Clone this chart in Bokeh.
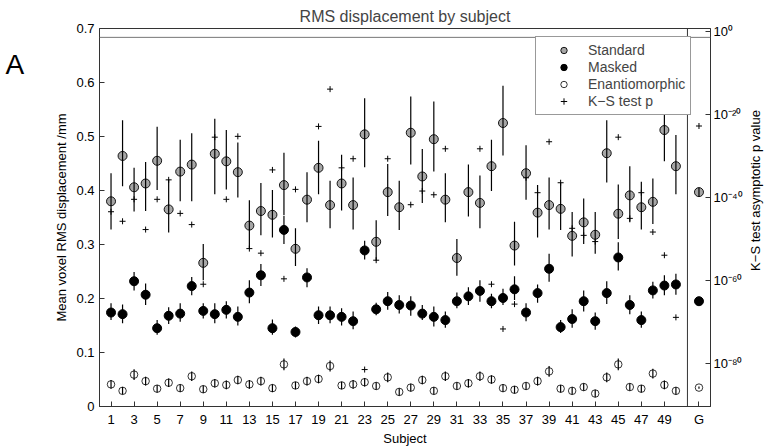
import math
from bokeh.plotting import figure
from bokeh.layouts import row
from bokeh.models import (Range1d, LogScale, LogAxis, FixedTicker, Span,
                          Legend, LegendItem, ColumnDataSource)
from bokeh.core.properties import value
from bokeh.embed import file_html
from bokeh.resources import INLINE

FONT = "Liberation Sans"

# ---------------- data ----------------
subjects = list(range(1, 51))

std_mean = [0.380, 0.464, 0.406, 0.413, 0.455, 0.365, 0.435, 0.448, 0.266, 0.468,
            0.454, 0.434, 0.335, 0.362, 0.355, 0.410, 0.292, 0.383, 0.442, 0.373,
            0.413, 0.373, 0.504, 0.305, 0.397, 0.369, 0.507, 0.426, 0.495, 0.383,
            0.275, 0.397, 0.377, 0.445, 0.525, 0.298, 0.432, 0.359, 0.373, 0.366,
            0.316, 0.341, 0.318, 0.469, 0.357, 0.391, 0.369, 0.379, 0.512, 0.445]
std_lo = [0.328, 0.408, 0.361, 0.362, 0.401, 0.322, 0.380, 0.380, 0.234, 0.393,
          0.402, 0.387, 0.292, 0.317, 0.313, 0.354, 0.260, 0.341, 0.393, 0.330,
          0.363, 0.328, 0.443, 0.270, 0.353, 0.327, 0.448, 0.377, 0.435, 0.341,
          0.242, 0.352, 0.330, 0.399, 0.465, 0.261, 0.383, 0.313, 0.328, 0.327,
          0.278, 0.301, 0.283, 0.415, 0.310, 0.341, 0.328, 0.338, 0.454, 0.393]
std_hi = [0.432, 0.530, 0.442, 0.453, 0.518, 0.420, 0.494, 0.506, 0.301, 0.533,
          0.512, 0.489, 0.382, 0.414, 0.401, 0.470, 0.330, 0.434, 0.492, 0.418,
          0.466, 0.424, 0.571, 0.345, 0.449, 0.418, 0.574, 0.477, 0.565, 0.432,
          0.310, 0.448, 0.428, 0.494, 0.594, 0.342, 0.484, 0.410, 0.424, 0.414,
          0.360, 0.385, 0.360, 0.530, 0.411, 0.445, 0.416, 0.422, 0.573, 0.503]

msk_mean = [0.174, 0.171, 0.232, 0.207, 0.145, 0.168, 0.172, 0.223, 0.177, 0.171,
            0.179, 0.166, 0.211, 0.243, 0.145, 0.327, 0.138, 0.239, 0.169, 0.169,
            0.166, 0.158, 0.289, 0.180, 0.195, 0.188, 0.187, 0.172, 0.166, 0.160,
            0.195, 0.204, 0.214, 0.195, 0.201, 0.217, 0.174, 0.210, 0.255, 0.147,
            0.162, 0.195, 0.158, 0.210, 0.276, 0.188, 0.160, 0.215, 0.224, 0.226]
msk_lo = [0.160, 0.154, 0.215, 0.188, 0.133, 0.153, 0.157, 0.206, 0.163, 0.154,
          0.163, 0.150, 0.191, 0.223, 0.133, 0.301, 0.128, 0.221, 0.153, 0.154,
          0.150, 0.143, 0.272, 0.169, 0.179, 0.172, 0.168, 0.160, 0.148, 0.146,
          0.182, 0.188, 0.194, 0.182, 0.188, 0.197, 0.158, 0.192, 0.231, 0.136,
          0.146, 0.176, 0.142, 0.190, 0.252, 0.171, 0.146, 0.200, 0.206, 0.207]
msk_hi = [0.191, 0.189, 0.249, 0.228, 0.160, 0.184, 0.191, 0.240, 0.191, 0.191,
          0.195, 0.185, 0.234, 0.264, 0.161, 0.353, 0.148, 0.256, 0.185, 0.185,
          0.182, 0.176, 0.307, 0.192, 0.212, 0.206, 0.204, 0.188, 0.185, 0.176,
          0.211, 0.221, 0.234, 0.209, 0.218, 0.241, 0.191, 0.226, 0.283, 0.160,
          0.180, 0.215, 0.174, 0.232, 0.304, 0.206, 0.176, 0.231, 0.243, 0.246]

ena_mean = [0.041, 0.029, 0.059, 0.047, 0.033, 0.044, 0.034, 0.056, 0.032, 0.043,
            0.040, 0.049, 0.041, 0.047, 0.034, 0.078, 0.039, 0.047, 0.051, 0.075,
            0.039, 0.041, 0.045, 0.038, 0.054, 0.027, 0.035, 0.049, 0.029, 0.056,
            0.038, 0.043, 0.056, 0.050, 0.034, 0.031, 0.038, 0.047, 0.065, 0.033,
            0.029, 0.036, 0.024, 0.054, 0.078, 0.036, 0.033, 0.061, 0.040, 0.029]
ena_err = [0.008, 0.007, 0.010, 0.008, 0.007, 0.008, 0.007, 0.009, 0.007, 0.008,
           0.008, 0.008, 0.008, 0.008, 0.007, 0.011, 0.007, 0.008, 0.008, 0.010,
           0.007, 0.008, 0.008, 0.007, 0.009, 0.007, 0.007, 0.008, 0.007, 0.009,
           0.007, 0.008, 0.009, 0.008, 0.007, 0.007, 0.007, 0.008, 0.010, 0.007,
           0.007, 0.007, 0.007, 0.009, 0.011, 0.007, 0.007, 0.009, 0.008, 0.007]

# K-S test asymptotic p value, as exponent of ten
ks_exp = [-43.4, -45.7, -40.4, -47.7, -40.4, -35.7, -43.8, -46.5, -60.9, -25.4,
          -40.4, -25.2, -52.3, -53.4, -33.3, -59.6, -38.0, -40.4, -22.8, -13.8,
          -32.8, -30.6, -81.5, -55.1, -30.6, -42.2, -41.7, -38.4, -39.3, -28.2,
          -54.5, -38.6, -28.2, -60.9, -71.7, -65.7, -35.2, -38.8, -26.5, -36.4,
          -47.4, -49.1, -50.6, -15.0, -25.4, -45.0, -38.8, -48.3, -53.9, -68.9]

# group (G) summary
group_label = "G"
g_std, g_std_lo, g_std_hi = 0.397, 0.389, 0.405
g_msk, g_msk_lo, g_msk_hi = 0.195, 0.192, 0.198
g_ena, g_ena_lo, g_ena_hi = 0.035, 0.033, 0.037
g_ks_exp = -22.7

x_ticks = [1, 3, 5, 7, 9, 11, 13, 15, 17, 19, 21, 23, 25, 27, 29, 31, 33, 35,
           37, 39, 41, 43, 45, 47, 49]
y_ticks = [0.0, 0.1, 0.2, 0.3, 0.4, 0.5, 0.6, 0.7]
p_ticks = [1.0, 1e-20, 1e-40, 1e-60, 1e-80]
p_tick_labels = ["10\u2070", "10\u207b\u00b2\u2070", "10\u207b\u2074\u2070",
                 "10\u207b\u2076\u2070", "10\u207b\u2078\u2070"]
p_threshold = 0.05
panel_letter = "A"
right_axis_title = "K\u2212S test asymptotic p value"

# ---------------- layout sizes ----------------
W, H = 767, 448
A_W = 40          # strip holding the panel letter
R_W = 22          # strip holding the right axis title

def strip(width):
    f = figure(width=width, height=H, output_backend="svg", toolbar_location=None,
               x_range=Range1d(0, width), y_range=Range1d(0, H),
               x_axis_location=None, y_axis_location=None, min_border=0)
    f.outline_line_color = None
    f.xgrid.visible = False
    f.ygrid.visible = False
    return f

fa = strip(A_W)
fa.text(x=[5], y=[H - 43], text=[panel_letter], text_font=value(FONT),
        text_font_size="28px", text_baseline="alphabetic", text_align="left",
        text_color="black")

fr = strip(R_W)
fr.text(x=[10], y=[H - 192], text=[right_axis_title], text_font=value(FONT),
        text_font_size="13px", text_baseline="middle", text_align="center",
        angle=math.pi / 2, text_color="black")

# ---------------- sources ----------------
g_x = 52
xs = subjects + [g_x]
src = ColumnDataSource(dict(
    x=xs,
    std=std_mean + [g_std], std_lo=std_lo + [g_std_lo], std_hi=std_hi + [g_std_hi],
    msk=msk_mean + [g_msk], msk_lo=msk_lo + [g_msk_lo], msk_hi=msk_hi + [g_msk_hi],
    ena=ena_mean + [g_ena],
    ena_lo=[m - e for m, e in zip(ena_mean, ena_err)] + [g_ena_lo],
    ena_hi=[m + e for m, e in zip(ena_mean, ena_err)] + [g_ena_hi],
    ks=[10.0 ** e for e in ks_exp + [g_ks_exp]],
))

# ---------------- main figure ----------------
p = figure(width=W - A_W - R_W, height=H, output_backend="svg", toolbar_location=None,
           x_range=Range1d(0, 53), y_range=Range1d(0, 0.7),
           title="RMS displacement by subject",
           min_border_left=99 - A_W, min_border_right=30, min_border_top=28,
           min_border_bottom=39)
p.background_fill_color = "white"
p.border_fill_color = "white"
p.outline_line_color = "#333333"
p.outline_line_width = 1
p.xgrid.visible = False
p.ygrid.visible = False

p.title.text_font = FONT
p.title.text_font_size = "16px"
p.title.text_font_style = "normal"
p.title.align = "center"
p.title.standoff = 7
p.title.offset = 0

p.extra_y_ranges = {"p": Range1d(10 ** -90.42, 10 ** 0.84)}
p.extra_y_scales = {"p": LogScale()}

# K-S p markers (drawn first)
r_ks = p.scatter("x", "ks", source=src, y_range_name="p", marker="cross", size=6,
                 line_color="black", line_width=1)

r_std = p.scatter("x", "std", source=src, marker="circle", size=9,
                  fill_color="#a6a6a6", line_color="black", line_width=0.9)
r_msk = p.scatter("x", "msk", source=src, marker="circle", size=9,
                  fill_color="black", line_color="black")
r_ena = p.scatter("x", "ena", source=src, marker="circle", size=7.5,
                  fill_color="white", line_color="black", line_width=0.8)

for lo, hi in (("std_lo", "std_hi"), ("msk_lo", "msk_hi"), ("ena_lo", "ena_hi")):
    p.segment(x0="x", y0=lo, x1="x", y1=hi, source=src, line_color="black",
              line_width=1.2)

# separators / threshold line
p.add_layout(Span(location=51, dimension="height", line_color="#333333", line_width=1))
p.add_layout(Span(location=p_threshold, dimension="width", y_range_name="p",
                  line_color="#777777", line_width=1))

# axes
xa = p.xaxis[0]
xa.ticker = FixedTicker(ticks=x_ticks + [g_x])
xa.major_label_overrides = {g_x: group_label}
xa.axis_label = "Subject"

ya = p.yaxis[0]
ya.ticker = FixedTicker(ticks=y_ticks)
ya.major_label_overrides = {0.0: "0"}
ya.axis_label = "Mean voxel RMS displacement /mm"

ra = LogAxis(y_range_name="p")
ra.ticker = FixedTicker(ticks=p_ticks)
ra.major_label_overrides = dict(zip(p_ticks, p_tick_labels))
p.add_layout(ra, "right")

for ax in (xa, ya, ra):
    ax.axis_line_color = "#333333"
    ax.major_tick_line_color = "#333333"
    ax.major_tick_in = 5
    ax.major_tick_out = 0
    ax.minor_tick_line_color = None
    ax.major_label_text_font = FONT
    ax.major_label_text_font_size = "13px"
    ax.major_label_text_color = "black"
    ax.axis_label_text_font = FONT
    ax.axis_label_text_font_size = "13px"
    ax.axis_label_text_font_style = "normal"
    ax.axis_label_text_color = "black"
xa.major_label_standoff = 5
xa.axis_label_standoff = 1
ya.major_label_standoff = 5
ya.axis_label_standoff = 4
ra.major_label_standoff = 3

# legend
legend = Legend(items=[
    LegendItem(label="Standard", renderers=[r_std]),
    LegendItem(label="Masked", renderers=[r_msk]),
    LegendItem(label="Enantiomorphic", renderers=[r_ena]),
    LegendItem(label="K\u2212S test p", renderers=[r_ks]),
], location=(436, 291))
legend.label_text_font = FONT
legend.label_text_font_size = "14px"
legend.glyph_width = 45
legend.glyph_height = 16
legend.label_height = 16
legend.label_standoff = 2
legend.padding = 5
legend.spacing = 1
legend.margin = 0
legend.border_line_color = "#333333"
legend.background_fill_color = "white"
legend.background_fill_alpha = 1.0
p.add_layout(legend)

layout = row(fa, p, fr)
open("out.html", "w").write(file_html(layout, INLINE))
